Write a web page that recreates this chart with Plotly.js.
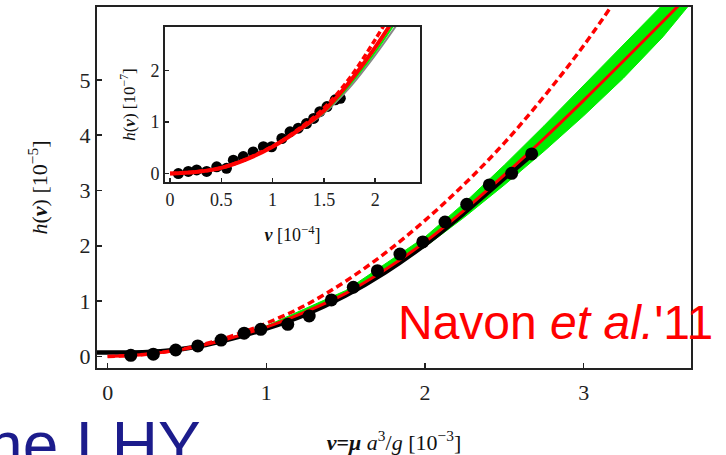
<!DOCTYPE html>
<html>
<head>
<meta charset="utf-8">
<script src="https://cdn.plot.ly/plotly-3.0.1.min.js"></script>
<style>html,body{margin:0;padding:0;background:#fff;}#chart{width:726px;height:455px;}</style>
</head>
<body>
<div id="chart"></div>
<script>
// ---------- main panel (units: nu in 1e-3, h in 1e-5) ----------
const dotsNu = [0.146,0.288,0.429,0.568,0.715,0.86,0.965,1.135,1.27,1.41,1.548,1.70,1.842,1.986,2.126,2.263,2.405,2.546,2.672];
const dotsH  = [0.02,0.04,0.115,0.19,0.295,0.42,0.49,0.58,0.73,1.02,1.25,1.55,1.85,2.07,2.43,2.75,3.10,3.31,3.66];

const blackNu = [-0.07,0.1,0.25,0.4,0.55,0.7,0.85,1.0,1.25,1.5,1.75,2.0,2.25,2.5,2.68];
const blackH  = [0.07,0.07,0.08,0.11,0.17,0.26,0.37,0.5,0.76,1.1,1.52,2.02,2.6,3.22,3.66];

const redNu = [0,0.25,0.5,0.75,1.0,1.25,1.5,1.75,2.0,2.25,2.5,2.75,3.0,3.25,3.5,3.7];
const redH  = [0.0,0.04,0.14,0.31,0.53,0.81,1.14,1.57,2.07,2.65,3.28,3.94,4.63,5.34,6.06,6.64];

const dashNu = [0,0.25,0.5,0.75,1.0,1.25,1.5,1.75,2.0,2.25,2.5,2.75,3.0,3.25];
const dashH  = [0.0,0.04,0.15,0.34,0.6,0.93,1.36,1.87,2.46,3.12,3.86,4.7,5.62,6.65];

const greenNu    = [0.75,1.0,1.5,2.0,2.25,2.5,2.75,3.0,3.25,3.5,3.75];
const greenUpper = [0.32,0.55,1.19,2.16,2.78,3.46,4.17,4.91,5.64,6.38,7.1];
const greenLower = [0.30,0.51,1.10,1.98,2.52,3.10,3.71,4.35,5.03,5.78,6.65];

const mainXTicks = [0,1,2,3];
const mainYTicks = [0,1,2,3,4,5];

// ---------- inset (units: nu in 1e-4, h in 1e-7) ----------
const insetNu = [0.081,0.178,0.26,0.357,0.455,0.55,0.617,0.714,0.81,0.91,0.99,1.09,1.17,1.25,1.33,1.40,1.46,1.53,1.61,1.66];
const insetH  = [0.0,0.04,0.07,0.04,0.13,0.10,0.26,0.33,0.42,0.52,0.52,0.68,0.81,0.88,0.97,1.07,1.20,1.30,1.43,1.46];

const insetRedNu = [0,0.25,0.5,0.75,1.0,1.25,1.5,1.75,2.0,2.2];
const insetRedH  = [0.0,0.03,0.11,0.28,0.52,0.84,1.22,1.78,2.45,3.05];

const insetDashNu = [0,0.5,1.0,1.25,1.5,1.75,2.0,2.15];
const insetDashH  = [0.0,0.11,0.53,0.86,1.27,1.85,2.6,3.1];

const insetGreenNu = [1.0,1.5,1.75,2.0,2.25];
const insetGreenH  = [0.51,1.19,1.72,2.36,3.1];

const insetGrayNu = [1.25,1.5,1.75,2.0,2.25];
const insetGrayH  = [0.82,1.17,1.67,2.3,3.0];

const insetXTicks = [0,0.5,1,1.5,2];
const insetXText  = ['0','0.5','1','1.5','2'];
const insetYTicks = [0,1,2];

const RED = '#ff0000', GREEN = '#00ee00';
const serif = 'Liberation Serif, Times New Roman, serif';

const traces = [
  // green band
  {x: greenNu, y: greenLower, mode:'lines', line:{color:GREEN, width:1}, hoverinfo:'skip'},
  {x: greenNu, y: greenUpper, mode:'lines', line:{color:GREEN, width:1}, fill:'tonexty', fillcolor:GREEN, hoverinfo:'skip'},
  {x: blackNu, y: blackH, mode:'lines', line:{color:'#000', width:4.5, shape:'spline'}},
  {x: redNu, y: redH, mode:'lines', line:{color:RED, width:3, shape:'spline'}},
  {x: dashNu, y: dashH, mode:'lines', line:{color:RED, width:3.5, dash:'7px,4px', shape:'spline'}},
  {x: dotsNu, y: dotsH, mode:'markers', marker:{color:'#000', size:13}},
  // inset
  {x: insetNu, y: insetH, xaxis:'x2', yaxis:'y2', mode:'markers', marker:{color:'#000', size:11}},
  {x: insetGrayNu, y: insetGrayH, xaxis:'x2', yaxis:'y2', mode:'lines', line:{color:'#888', width:2, shape:'spline'}},
  {x: insetGreenNu, y: insetGreenH, xaxis:'x2', yaxis:'y2', mode:'lines', line:{color:GREEN, width:2, shape:'spline'}},
  {x: insetRedNu, y: insetRedH, xaxis:'x2', yaxis:'y2', mode:'lines', line:{color:RED, width:4, shape:'spline'}},
  {x: insetDashNu, y: insetDashH, xaxis:'x2', yaxis:'y2', mode:'lines', line:{color:RED, width:3.5, dash:'6px,3px', shape:'spline'}}
];

const axisBase = {
  ticks:'inside', ticklen:5, tickwidth:1.5, tickcolor:'#222',
  showline:true, mirror:true, linecolor:'#222', linewidth:2,
  showgrid:false, zeroline:false
};

const layout = {
  width:726, height:455,
  margin:{l:97, r:35, t:7, b:87},
  paper_bgcolor:'#ffffff', plot_bgcolor:'#ffffff',
  showlegend:false,
  xaxis: Object.assign({}, axisBase, {
    domain:[0,1], range:[-0.067,3.676], tickvals:mainXTicks, ticklabelstandoff:4,
    tickfont:{family:serif, size:22, color:'#222'},
    title:{text:'<b><i>ν</i>=<i>μ</i></b> <i>a</i><sup>3</sup>/<i>g</i> [10<sup>−3</sup>]', font:{family:serif, size:22, color:'#111'}, standoff:30}
  }),
  yaxis: Object.assign({}, axisBase, {
    domain:[0,1], range:[-0.21,6.317], tickvals:mainYTicks,
    tickfont:{family:serif, size:22, color:'#222'},
    title:{text:'<i>h</i>(<b><i>ν</i></b>) [10<sup>−5</sup>]', font:{family:serif, size:22, color:'#111'}, standoff:26}
  }),
  xaxis2: Object.assign({}, axisBase, {
    domain:[0.1145,0.5438], anchor:'y2', range:[-0.049,2.437],
    tickvals:insetXTicks, ticktext:insetXText, ticklen:4,
    tickfont:{family:serif, size:18, color:'#222'},
    title:{text:'<b><i>ν</i></b> [10<sup>−4</sup>]', font:{family:serif, size:18, color:'#111'}, standoff:20}
  }),
  yaxis2: Object.assign({}, axisBase, {
    domain:[0.5152,0.9446], anchor:'x2', range:[-0.165,2.845],
    tickvals:insetYTicks, ticklen:4,
    tickfont:{family:serif, size:18, color:'#222'},
    title:{text:'<i>h</i>(<b><i>ν</i></b>) [10<sup>−7</sup>]', font:{family:serif, size:17, color:'#111'}, standoff:10}
  }),
  annotations:[
    {xref:'paper', yref:'paper', x:0.772, y:0.127, xanchor:'center', yanchor:'middle', showarrow:false,
     text:"Navon <i>et al.</i>'11", font:{family:'Liberation Sans, Arial, sans-serif', size:48, color:RED}},
    {xref:'paper', yref:'paper', x:-0.254, y:-0.108, xanchor:'left', yanchor:'top', showarrow:false,
     text:'The LHY', font:{family:'Liberation Sans, Arial, sans-serif', size:64, color:'#1c1c8c'}}
  ]
};

Plotly.newPlot('chart', traces, layout, {staticPlot:true, displayModeBar:false});
</script>
</body>
</html>
